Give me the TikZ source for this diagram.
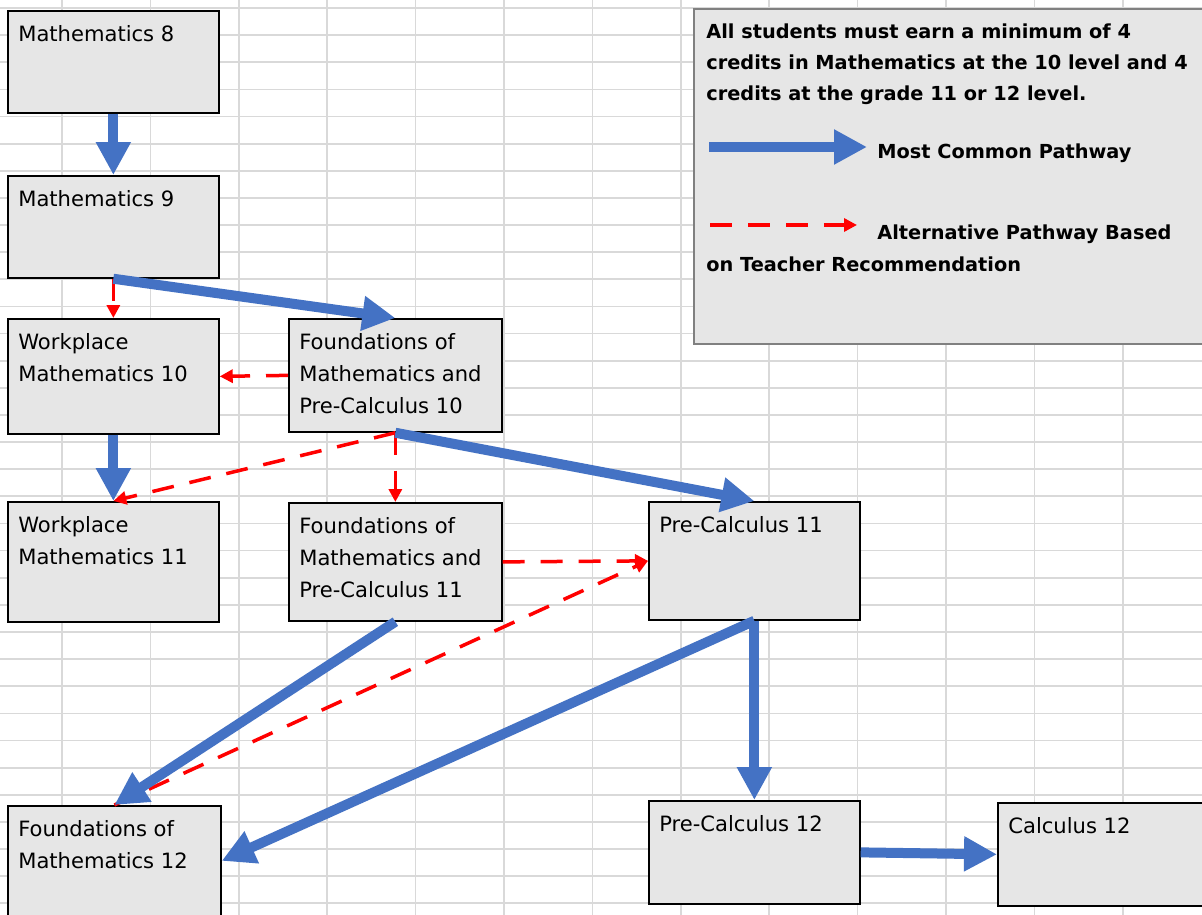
\documentclass[tikz,border=0pt]{standalone}
\usepackage{fontspec}
\setmainfont{DejaVu Sans}
\usetikzlibrary{arrows.meta}

\definecolor{pathblue}{HTML}{4472C4}
\definecolor{altred}{HTML}{FF0000}
\definecolor{boxgray}{HTML}{E6E6E6}
\definecolor{gridgray}{HTML}{D9D9D9}
\definecolor{legendgray}{HTML}{808080}

\tikzset{
  course/.style={draw=black, line width=1pt, fill=boxgray, anchor=north west,
    inner sep=0pt, minimum width=4.22cm},
  coursetext/.style={anchor=north west, align=left, inner sep=0pt,
    xshift=0.22cm, yshift=-0.3cm, font=\fontsize{12}{18.2}\selectfont},
  legendtext/.style={inner sep=0pt, align=left,
    font=\bfseries\fontsize{11}{17.9}\selectfont},
  legendnote/.style={legendtext, anchor=north west, xshift=0.26cm, yshift=-0.3cm},
  common/.style={line width=0.2cm, pathblue,
    -{Triangle[length=0.66cm,width=0.66cm]}},
  alternative/.style={line width=0.07cm, altred, dash pattern=on 0.44cm off 0.32cm,
    -{Triangle[length=0.26cm,width=0.26cm]}},
}

\begin{document}
\begin{tikzpicture}[x=0.02cm, y=-0.02cm]
    \useasboundingbox (0,0) rectangle (1202,915);
    \clip (0,0) rectangle (1202,915);
    \fill [white] (0,0) rectangle (1202,915);

    % spreadsheet grid
    \foreach \gx in {0,...,12}
        \draw [gridgray, line width=1pt] (62+88.4*\gx,0) -- (62+88.4*\gx,915);
    \foreach \gy in {0,...,33}
        \draw [gridgray, line width=1pt] (0,8+27.13*\gy) -- (1202,8+27.13*\gy);

    % courses
    \path (7, 10) node [course, minimum height=2.04cm,
        label={[coursetext]north west:Mathematics 8}] (m8) {};
    \path (7, 175) node [course, minimum height=2.04cm,
        label={[coursetext]north west:Mathematics 9}] (m9) {};
    \path (7, 318) node [course, minimum height=2.3cm,
        label={[coursetext]north west:Workplace\\Mathematics 10}] (wp10) {};
    \path (288, 318) node [course, minimum width=4.26cm, minimum height=2.26cm,
        label={[coursetext]north west:Foundations of\\Mathematics and\\Pre-Calculus 10}] (fm10) {};
    \path (7, 501) node [course, minimum height=2.4cm,
        label={[coursetext]north west:Workplace\\Mathematics 11}] (wp11) {};
    \path (288, 502) node [course, minimum width=4.26cm, minimum height=2.36cm,
        label={[coursetext]north west:Foundations of\\Mathematics and\\Pre-Calculus 11}] (fm11) {};
    \path (648, 501) node [course, minimum height=2.36cm,
        label={[coursetext]north west:Pre-Calculus 11}] (pc11) {};
    \path (7, 805) node [course, minimum width=4.26cm, minimum height=2.4cm,
        label={[coursetext]north west:Foundations of\\Mathematics 12}] (f12) {};
    \path (648, 800) node [course, minimum height=2.06cm,
        label={[coursetext]north west:Pre-Calculus 12}] (pc12) {};
    \path (997, 802) node [course, minimum height=2.06cm,
        label={[coursetext]north west:Calculus 12}] (calc12) {};

    % legend
    \path (693, 8) node [course, draw=legendgray, line width=1.2pt,
        minimum width=10.4cm, minimum height=6.7cm,
        label={[legendnote]north west:All students must earn a minimum of 4\\
            credits in Mathematics at the 10 level and 4\\
            credits at the grade 11 or 12 level.}] (legend) {};
    \coordinate (commonstart) at (709, 147);
    \coordinate (commonend) at (867, 147);
    \draw [common] (commonstart) -- (commonend);
    \path (877, 159) node [legendtext, anchor=base west] (commonlabel) {Most Common Pathway};
    \coordinate (altstart) at (710, 225);
    \coordinate (altend) at (857, 225);
    \draw [alternative] (altstart) -- (altend);
    \path (877, 240) node [legendtext, anchor=base west] (altlabel) {Alternative Pathway Based};
    \path (706, 272) node [legendtext, anchor=base west] (altlabelb) {on Teacher Recommendation};

    % alternative pathways
    \draw [alternative] (m9.south) -- (wp10.north);
    \draw [alternative] (fm10.west) -- (wp10.east);
    \draw [alternative] (fm10.south) -- (wp11.north);
    \draw [alternative] (fm10.south) -- (fm11.north);
    \draw [alternative] (fm11.east) -- (pc11.west);
    \draw [alternative] (f12.north) -- (pc11.west);

    % most common pathways
    \draw [common] (m8.south) -- (m9.north);
    \draw [common] (m9.south) -- (fm10.north);
    \draw [common] (wp10.south) -- (wp11.north);
    \draw [common] (fm10.south) -- (pc11.north);
    \draw [common] (fm11.south) -- (f12.north);
    \draw [common] (pc11.south) -- ([yshift=0.1cm]f12.east);
    \draw [common] (pc11.south) -- (pc12.north);
    \draw [common] (pc12.east) -- (calc12.west);
\end{tikzpicture}
\end{document}
